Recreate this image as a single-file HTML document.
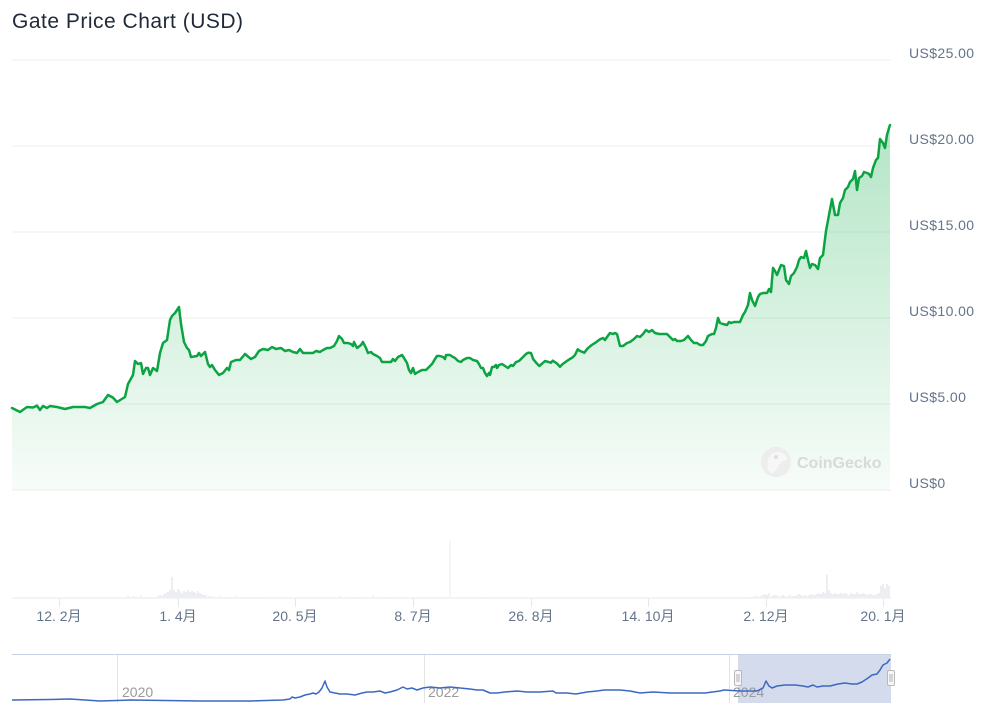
<!DOCTYPE html>
<html><head><meta charset="utf-8">
<style>
html,body{margin:0;padding:0;background:#fff;}
svg{display:block;}
text{font-family:"Liberation Sans","Noto Sans CJK SC",sans-serif;}
</style></head>
<body>
<svg width="986" height="720" viewBox="0 0 986 720" xmlns="http://www.w3.org/2000/svg">
<defs>
<linearGradient id="g" x1="0" y1="120" x2="0" y2="490" gradientUnits="userSpaceOnUse">
<stop offset="0" stop-color="#00a83e" stop-opacity="0.30"/>
<stop offset="1" stop-color="#00a83e" stop-opacity="0.03"/>
</linearGradient>
</defs>
<rect width="986" height="720" fill="#fff"/>
<text x="12" y="28" font-size="21" fill="#1f2937" letter-spacing="0.5">Gate Price Chart (USD)</text>

<!-- grid -->
<g stroke="#efefef" stroke-width="1">
<line x1="12" x2="891" y1="60" y2="60"/>
<line x1="12" x2="891" y1="146" y2="146"/>
<line x1="12" x2="891" y1="232" y2="232"/>
<line x1="12" x2="891" y1="318" y2="318"/>
<line x1="12" x2="891" y1="404" y2="404"/>
<line x1="12" x2="891" y1="490" y2="490"/>
</g>
<g font-size="14" fill="#64748b" letter-spacing="0.4">
<text x="909" y="58">US$25.00</text>
<text x="909" y="144">US$20.00</text>
<text x="909" y="230">US$15.00</text>
<text x="909" y="316">US$10.00</text>
<text x="909" y="402">US$5.00</text>
<text x="909" y="488">US$0</text>
</g>

<!-- area -->
<path fill="url(#g)" d="M12,408 L20,412 27,407 33,407.5 37,405.7 40,410 43,406 47,408 50,406 57,407 65,409 73,407 85,407 90,408 97,404 103,402 108,395 113,397.6 117,402 125,397 128,384 133,375 135,361 138,364 141,363 143,374 146,368 148,368 150,375 153,368 157,371 160,353 163,343 167,340 170,320 172,316 175,313 179,307 181,324 184,342 187,348 189,350 191,357 197,356 199,353 201,356 205,352 208,364 210,367 212,365 215,370 219,375 223,373 227,368 229,370 231,362 236,360 240,360 245,354 251,359 255,357 259,351 263,349 268,350 272,347 276,349 281,348 285,351 289,350 293,352 297,353 300,349 303,353 307,353 313,353 316,351 320,352 323,350 327,348 330,348 334,346 337,341 339,336 342,339 344,343 348,343 351,344 353,346 354,342 357,348 361,345 363,342 366,348 368,353 371,352 373,354 377,356 380,358 382,362 386,362 391,362 393,359 395,361 398,357 402,355 404,358 407,363 409,370 411,373 413,368 415,374 418,372 422,370 426,370 429,367 432,364 435,359 437,356 440,356 443,357 445,359 446,355 450,355 453,357 455,358 458,361 461,362 463,360 467,358 470,358 473,360 477,361 479,364 481,368 483,368 485,373 487,376 489,373 490,375 492,367 494,367 496,365 497,368 499,365 502,364 505,366 508,368 511,365 513,366 516,362 519,361 522,358 526,354 528.3,352.7 531,353 533.3,359.3 536.7,363.3 539.3,366 541.7,364 545,361 551,362.7 552.7,360.7 556.7,363.3 560,366.7 562.7,364 568.3,360 572.7,357.3 575,355 577.7,349.3 580,351 584.3,352.7 587.7,348.3 591.7,345 596,342.3 600,339.3 603,338 605,340 607,337 610,333 613,334 615,333 617,334 620,346 623,346 627,343 630,342 634,339 637,336 640,337 643,334 646,330 649,332 652,330 655,333 659,334 663,334 667,334 670,337 673,340 675,339 677,341 681,341 684,340 688,336 691,340 694,343 697,343 700,345 703,345 706,341 708,336 712,334 714,334 716,328 718,318 720,323 723,324 727,325 729,322 731,323 734,322 738,322 740,322 743,315 745,312 748,305 750,293 752,300 755,306 758,297 760,294 763,293 767,293 769,289 771,292 773,268 775,271 777,275 779,270 781,265 784,266 786,280 789,284 791,276 794,273 797,267 799,260 801,257 804,258 806,251 808,260 810,268 812,264 815,265 818,269 820,258 823,255 826,231 829,215 832,199 835,215 838,215 840,203 843,198 845,190 848,187 850,182 853,179 855,171 857,190 859,178 862,176 864,172 867,173 869,174 871,177 873,168 876,160 878,158 880,139 883,143 885,148 887,135 889,128 890,125 L890,490 L12,490 Z"/>
<!-- line -->
<path fill="none" stroke="#0ca443" stroke-width="2.5" stroke-linejoin="round" stroke-linecap="round" d="M12,408 L20,412 27,407 33,407.5 37,405.7 40,410 43,406 47,408 50,406 57,407 65,409 73,407 85,407 90,408 97,404 103,402 108,395 113,397.6 117,402 125,397 128,384 133,375 135,361 138,364 141,363 143,374 146,368 148,368 150,375 153,368 157,371 160,353 163,343 167,340 170,320 172,316 175,313 179,307 181,324 184,342 187,348 189,350 191,357 197,356 199,353 201,356 205,352 208,364 210,367 212,365 215,370 219,375 223,373 227,368 229,370 231,362 236,360 240,360 245,354 251,359 255,357 259,351 263,349 268,350 272,347 276,349 281,348 285,351 289,350 293,352 297,353 300,349 303,353 307,353 313,353 316,351 320,352 323,350 327,348 330,348 334,346 337,341 339,336 342,339 344,343 348,343 351,344 353,346 354,342 357,348 361,345 363,342 366,348 368,353 371,352 373,354 377,356 380,358 382,362 386,362 391,362 393,359 395,361 398,357 402,355 404,358 407,363 409,370 411,373 413,368 415,374 418,372 422,370 426,370 429,367 432,364 435,359 437,356 440,356 443,357 445,359 446,355 450,355 453,357 455,358 458,361 461,362 463,360 467,358 470,358 473,360 477,361 479,364 481,368 483,368 485,373 487,376 489,373 490,375 492,367 494,367 496,365 497,368 499,365 502,364 505,366 508,368 511,365 513,366 516,362 519,361 522,358 526,354 528.3,352.7 531,353 533.3,359.3 536.7,363.3 539.3,366 541.7,364 545,361 551,362.7 552.7,360.7 556.7,363.3 560,366.7 562.7,364 568.3,360 572.7,357.3 575,355 577.7,349.3 580,351 584.3,352.7 587.7,348.3 591.7,345 596,342.3 600,339.3 603,338 605,340 607,337 610,333 613,334 615,333 617,334 620,346 623,346 627,343 630,342 634,339 637,336 640,337 643,334 646,330 649,332 652,330 655,333 659,334 663,334 667,334 670,337 673,340 675,339 677,341 681,341 684,340 688,336 691,340 694,343 697,343 700,345 703,345 706,341 708,336 712,334 714,334 716,328 718,318 720,323 723,324 727,325 729,322 731,323 734,322 738,322 740,322 743,315 745,312 748,305 750,293 752,300 755,306 758,297 760,294 763,293 767,293 769,289 771,292 773,268 775,271 777,275 779,270 781,265 784,266 786,280 789,284 791,276 794,273 797,267 799,260 801,257 804,258 806,251 808,260 810,268 812,264 815,265 818,269 820,258 823,255 826,231 829,215 832,199 835,215 838,215 840,203 843,198 845,190 848,187 850,182 853,179 855,171 857,190 859,178 862,176 864,172 867,173 869,174 871,177 873,168 876,160 878,158 880,139 883,143 885,148 887,135 889,128 890,125"/>

<!-- watermark -->
<g opacity="0.9">
<circle cx="776" cy="462" r="15" fill="#ececec"/>
<path d="M768,470 C766,460 770,452 778,452 C784,452 787,456 787,460 L781,462 C779,466 776,470 772,474 Z" fill="#f7f7f7"/>
<circle cx="776" cy="457" r="2" fill="#dcdcdc"/>
<text x="797" y="468" font-size="16" font-weight="bold" fill="#d6d6d6">CoinGecko</text>
</g>

<!-- volume -->
<g stroke="#eceef1" stroke-width="2">
<path d="M128,598v-2M131,598v-1M134,598v-2M137,598v-1M141,598v-2M146,598v-1M150,598v-1M158,598v-2M160,598v-3M162,598v-2M164,598v-4M166,598v-5M168,598v-6M170,598v-8M172,598v-21M174,598v-8M176,598v-6M178,598v-9M180,598v-7M182,598v-5M184,598v-7M186,598v-6M188,598v-8M190,598v-6M192,598v-7M194,598v-6M196,598v-5M198,598v-7M200,598v-5M202,598v-4M204,598v-3M206,598v-3M209,598v-2M212,598v-2M216,598v-1M220,598v-2M225,598v-1M231,598v-1M236,598v-2M240,598v-1M248,598v-1M252,598v-1M256,598v-1M340,598v-2M355,598v-1M373,598v-2M390,598v-1M413,598v-1M484,598v-1"/>
<path d="M745,598v-1M748,598v-1M752,598v-1M755,598v-2M758,598v-2M761,598v-2M763,598v-3M765,598v-4M767,598v-3M769,598v-5M772,598v-2M774,598v-3M776,598v-3M778,598v-2M781,598v-2M783,598v-3M785,598v-2M788,598v-2M790,598v-3M793,598v-2M795,598v-2M797,598v-3M799,598v-4M801,598v-3M803,598v-2M805,598v-3M807,598v-2M809,598v-3M811,598v-4M813,598v-3M815,598v-3M817,598v-4M819,598v-5M821,598v-4M823,598v-6M825,598v-5M827,598v-23M829,598v-8M831,598v-5M833,598v-4M835,598v-5M837,598v-4M839,598v-4M841,598v-5M843,598v-4M845,598v-5M847,598v-4M849,598v-3M851,598v-5M853,598v-4M855,598v-4M857,598v-6M859,598v-4M861,598v-4M863,598v-5M865,598v-4M867,598v-3M869,598v-4M871,598v-4M873,598v-3M875,598v-3M877,598v-4M879,598v-5M881,598v-12M883,598v-14M885,598v-10M887,598v-14M889,598v-12"/>
</g>
<line x1="450" x2="450" y1="541" y2="598" stroke="#eceef1" stroke-width="1"/>
<line x1="12" x2="891" y1="598" y2="598" stroke="#eef0f2" stroke-width="1.5"/>
<g stroke="#e6e8eb" stroke-width="1">
<line x1="59.5" x2="59.5" y1="598" y2="607"/>
<line x1="178.5" x2="178.5" y1="598" y2="607"/>
<line x1="295.5" x2="295.5" y1="598" y2="607"/>
<line x1="413.5" x2="413.5" y1="598" y2="607"/>
<line x1="531.5" x2="531.5" y1="598" y2="607"/>
<line x1="648.5" x2="648.5" y1="598" y2="607"/>
<line x1="766.5" x2="766.5" y1="598" y2="607"/>
<line x1="883.5" x2="883.5" y1="598" y2="607"/>
</g>
<g font-size="14" fill="#64748b" text-anchor="middle">
<text x="59" y="621">12. 2月</text>
<text x="178" y="621">1. 4月</text>
<text x="295" y="621">20. 5月</text>
<text x="413" y="621">8. 7月</text>
<text x="531" y="621">26. 8月</text>
<text x="648" y="621">14. 10月</text>
<text x="766" y="621">2. 12月</text>
<text x="883" y="621">20. 1月</text>
</g>

<!-- navigator -->
<rect x="738" y="654" width="153" height="49" fill="#d3dbec"/>
<g stroke="#e3e3e3" stroke-width="1">
<line x1="117.5" x2="117.5" y1="654" y2="703"/>
<line x1="424.5" x2="424.5" y1="654" y2="703"/>
<line x1="729.5" x2="729.5" y1="654" y2="703"/>
</g>
<g font-size="14" fill="#9a9a9a">
<text x="122" y="697">2020</text>
<text x="428" y="697">2022</text>
<text x="733" y="697">2024</text>
</g>
<path fill="none" stroke="#3d68c1" stroke-width="1.5" stroke-linejoin="round" d="M12,700 L50,699.5 70,699 100,701 130,700 200,701 250,701 283,700 290,699 292,697 295,698 300,697 305,695 310,694 313,693 316,694 319,692 322,688 325,681 327,687 330,692 335,693 340,694 347,694 355,695 362,693 367,692 373,692 380,691 385,693 390,692 397,690 403,687 407,689 412,688 417,690 423,688 430,687 440,688 450,687 460,688 470,689 477,690 483,690 490,693 497,693 505,692 517,691 527,692 540,692 553,691 556,693 567,693 576,694 587,692 597,691 604,690 612,690 620,690 630,691 640,693 653,692 670,693 690,693 705,693 720,691 724,690 740,691 757,691 763,688 766,681 769,686 772,688 777,686 785,685 795,685 803,686 808,687 813,685 817,687 823,686 830,686 838,684 845,683 852,684 857,684 862,682 868,678 872,675 877,674 880,670 883,665 887,663 890,659"/>
<line x1="12" x2="891" y1="654.5" y2="654.5" stroke="#c8d2e6" stroke-width="1"/>
<g>
<rect x="734.5" y="670.5" width="7" height="15" rx="1.5" fill="#f7f7f7" stroke="#b8b8b8" stroke-width="1"/>
<line x1="737" x2="737" y1="674" y2="682" stroke="#b0b0b0"/>
<line x1="739" x2="739" y1="674" y2="682" stroke="#b0b0b0"/>
<rect x="887.5" y="670.5" width="7" height="15" rx="1.5" fill="#f7f7f7" stroke="#b8b8b8" stroke-width="1"/>
<line x1="890" x2="890" y1="674" y2="682" stroke="#b0b0b0"/>
<line x1="892" x2="892" y1="674" y2="682" stroke="#b0b0b0"/>
</g>
</svg>
</body></html>
